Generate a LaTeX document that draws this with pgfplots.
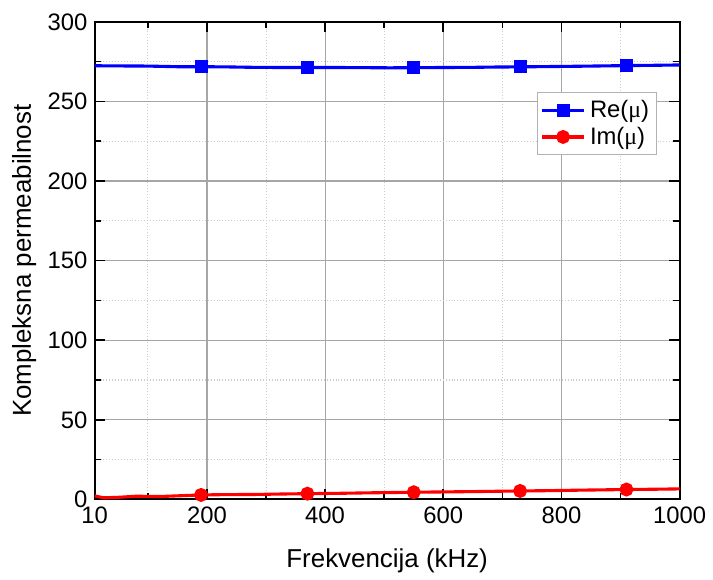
\documentclass[border=0pt]{standalone}
\usepackage{pgfplots}
\pgfplotsset{compat=1.18}
\usepackage{fontspec}
\setmainfont{Liberation Sans}
\setsansfont{Liberation Sans}
\newfontfamily\symfont{Liberation Serif}

\begin{document}
\begin{tikzpicture}
\begin{axis}[
    scale only axis,
    width=9.92cm, height=8.1cm,
    xmin=10, xmax=1000, ymin=0, ymax=300,
    xtick={10,200,400,600,800,1000},
    minor xtick={100,300,500,700,900},
    ytick={0,50,...,300},
    minor ytick={25,75,...,275},
    grid=both,
    major grid style={gray!70, line width=0.6pt},
    minor grid style={gray!40, densely dotted, line width=0.5pt},
    tick align=inside,
    major tick length=5pt, minor tick length=3pt,
    every tick/.style={black, line width=0.8pt},
    axis line style={line width=1pt},
    tick label style={font=\fontsize{11.5}{13}\selectfont},
    label style={font=\fontsize{12.5}{14}\selectfont},
    xlabel style={yshift=-0.18cm},
    ylabel style={yshift=-0.05cm},
    /pgf/number format/assume math mode=true,
    /pgf/number format/1000 sep={},
    xlabel={Frekvencija (kHz)},
    ylabel={Kompleksna permeabilnost},
    legend style={at={(0.961,0.852)}, anchor=north east, draw=gray!60,
        font=\fontsize{11.5}{13}\selectfont, inner sep=1.5pt, row sep=-1pt},
    legend cell align=left,
    legend image code/.code={
        \draw[#1, mark=none] (0cm,0cm) -- (0.72cm,0cm);
        \draw[#1, only marks] plot coordinates {(0.36cm,0cm)};
    },
]
% Re(mu): line
\addplot[blue, line width=1.5pt, forget plot] coordinates {
    (10,272.4) (50,272.3) (100,272.2) (150,271.8) (190,271.8)
    (230,271.7) (280,271.4) (330,271.3) (370,271.3) (420,271.3)
    (470,271.2) (510,271.1) (550,271.2) (600,271.3) (650,271.4)
    (690,271.6) (730,271.7) (780,271.9) (830,272.1) (870,272.3)
    (910,272.5) (960,272.7) (1000,272.9)
};
% Re(mu): marks
\addplot[blue, line width=1.5pt, only marks, mark=square*, mark size=2.4pt]
    coordinates {(190,271.8) (370,271.3) (550,271.2) (730,271.7) (910,272.5)};
\addlegendentry{Re({\symfont μ})}
% Im(mu): line
\addplot[red, line width=1.5pt, forget plot] coordinates {
    (10,2.2) (25,1.0) (50,1.3) (80,2.0) (120,1.8) (190,2.8)
    (230,3.0) (280,3.1) (330,3.4) (370,3.6) (420,3.8)
    (470,4.1) (510,4.3) (550,4.5) (600,4.7) (650,4.9)
    (690,5.1) (730,5.3) (780,5.5) (830,5.8) (870,6.0)
    (910,6.2) (960,6.4) (1000,6.6)
};
% Im(mu): marks
\addplot[red, line width=1.5pt, only marks, mark=*, mark size=2.6pt]
    coordinates {(190,2.8) (370,3.6) (550,4.5) (730,5.3) (910,6.2)};
\addlegendentry{Im({\symfont μ})}
\coordinate (axtop) at (rel axis cs:1,1);
\end{axis}
\path (axtop) ++(0.45cm,0.37cm) coordinate (bbtr);
\path (current bounding box.south west) ++(-0.09cm,0) coordinate (bbbl);
\useasboundingbox (bbbl) rectangle (bbtr);
\end{tikzpicture}
\end{document}
